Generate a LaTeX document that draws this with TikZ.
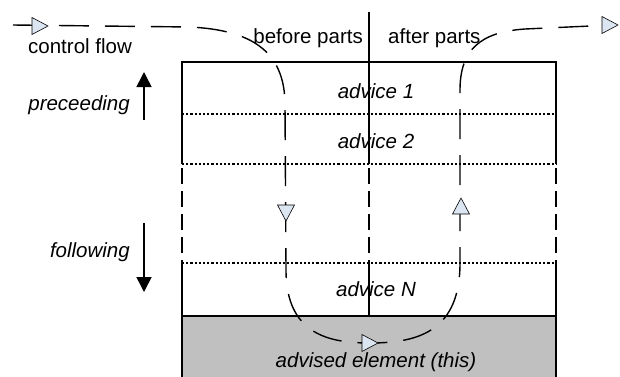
\documentclass[tikz,border=0pt]{standalone}
\usepackage{fontspec}
\setmainfont{Liberation Sans}
\usetikzlibrary{arrows.meta}
\definecolor{triblue}{HTML}{DCE6F2}
\definecolor{elgray}{HTML}{C0C0C0}
\begin{document}
\begin{tikzpicture}[x=1pt,y=-1pt,
  boxline/.style={line width=1.4pt},
  sidedash/.style={line width=1.4pt, dash pattern=on 16pt off 7pt, dash phase=19pt},
  dotline/.style={line width=1.1pt, dash pattern=on 2.2pt off 2pt},
  flow/.style={line width=1.4pt, dash pattern=on 30pt off 16pt},
  lbl/.style={font=\fontsize{20.5}{24}\selectfont, inner sep=0pt},
  ilbl/.style={inner sep=0pt, font=\fontsize{20.5}{24}\selectfont\itshape},
  dirarrow/.style={line width=1.6pt, -{Triangle[width=15pt,length=15pt]}},
  tri/.pic={\filldraw[fill=triblue, draw=black, line width=0.6pt] (-8,-8.5) -- (8,0) -- (-8,8.5) -- cycle;}
]
\useasboundingbox (0,0) rectangle (620,376);

% key coordinates of the box
\coordinate (TL) at (182,62);
\coordinate (TR) at (556,62);
\coordinate (L1) at (182,114);
\coordinate (R1) at (556,114);
\coordinate (L2) at (182,164);
\coordinate (R2) at (556,164);
\coordinate (L3) at (182,263);
\coordinate (R3) at (556,263);
\coordinate (L4) at (182,316);
\coordinate (R4) at (556,316);
\coordinate (BL) at (182,378);
\coordinate (BR) at (556,378);
\coordinate (M0) at (369,12);
\coordinate (M2) at (369,164);
\coordinate (M3) at (369,263);
\coordinate (M4) at (369,316);

% advised element (gray)
\filldraw[fill=elgray, draw=black, boxline] (L4) rectangle (BR);

% box outline
\draw[boxline] (L2) -- (TL) -- (TR) -- (R2);
\draw[sidedash] (L2) -- (L3);
\draw[sidedash] (R2) -- (R3);
\draw[boxline] (L3) -- (L4);
\draw[boxline] (R3) -- (R4);

% middle line
\draw[boxline] (M0) -- (M2);
\draw[sidedash] (M2) -- (M3);
\draw[boxline] (M3) -- (M4);

% dotted separators
\draw[dotline] (L1) -- (R1);
\draw[dotline] (L2) -- (R2);
\draw[dotline] (L3) -- (R3);

% texts
\node[lbl, anchor=base west] (cf) at (28,53) {control flow};
\node[lbl, anchor=base east] (bp) at (363,43) {before parts};
\node[lbl, anchor=base west] (ap) at (388,43) {after parts};
\node[ilbl, anchor=base] (a1) at (376,98) {advice 1};
\node[ilbl, anchor=base] (a2) at (376,148) {advice 2};
\node[ilbl, anchor=base] (aN) at (376,296) {advice N};
\node[ilbl, anchor=base] (ae) at (376,367) {advised element (this)};
\node[ilbl, anchor=base east] (pre) at (130,110) {preceeding};
\node[ilbl, anchor=base east] (fol) at (130,257) {following};

% direction arrows
\coordinate (upS) at (144,120);
\coordinate (upE) at (144,72);
\coordinate (dnS) at (144,223);
\coordinate (dnE) at (144,292);
\draw[dirarrow] (upS) -- (upE);
\draw[dirarrow] (dnS) -- (dnE);

% control flow
\coordinate (fS) at (13,25);
\coordinate (fA) at (190,27);
\coordinate (fB) at (285,105);
\coordinate (fC) at (286,270);
\coordinate (fD) at (370,343);
\coordinate (fE) at (460,263);
\coordinate (fF) at (460,90);
\coordinate (fG) at (525,29);
\coordinate (fH) at (612,25);
\draw[flow] (fS) -- (fA) .. controls (250,30) and (285,50) .. (fB) -- (fC)
  .. controls (286,335) and (330,343) .. (fD)
  .. controls (420,343) and (460,330) .. (fE) -- (fF)
  .. controls (460,50) and (480,32) .. (fG) -- (fH);

% flow arrowheads
\pic at (40,26) {tri};
\pic[rotate=-90] at (286,213) {tri};
\pic at (370,343) {tri};
\pic[rotate=90] at (461,206) {tri};
\pic at (610,25) {tri};
\end{tikzpicture}
\end{document}
